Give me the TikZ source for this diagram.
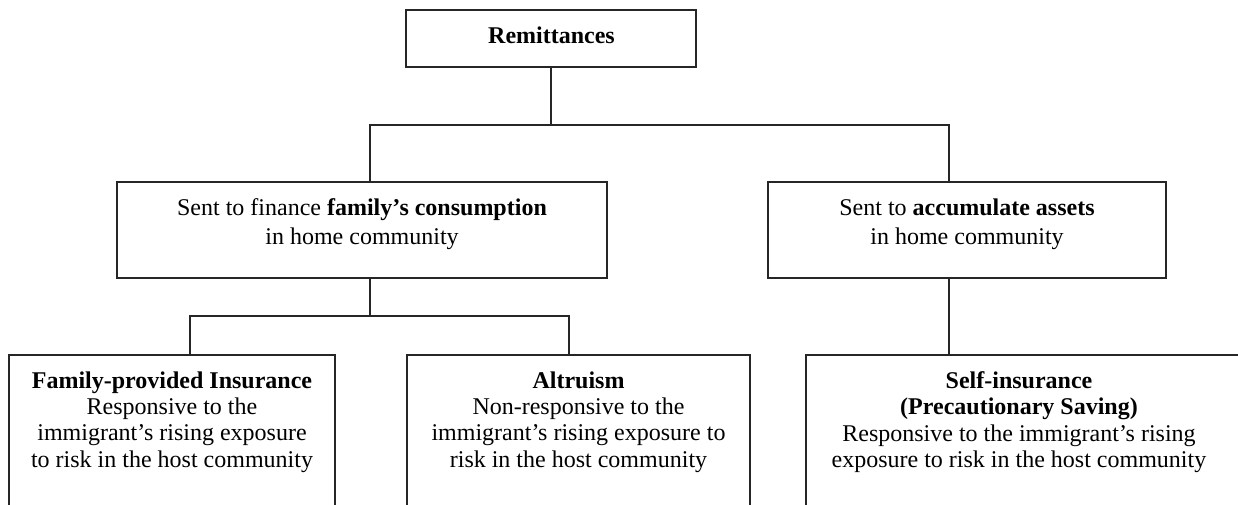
\documentclass[tikz,border=0pt]{standalone}
\usepackage{fontspec}
\setmainfont{Liberation Serif}
\begin{document}
\begin{tikzpicture}[x=1pt,y=-1pt,
  box/.style={draw=black!85, line width=1.2pt, inner sep=0pt, outer sep=0pt},
  conn/.style={draw=black!85, line width=1.2pt},
  txt/.style={align=center, inner sep=0pt, outer sep=0pt, text=black},
  midtxt/.style={txt, font=\fontsize{24}{29}\selectfont},
  bottxt/.style={txt, font=\fontsize{24}{26.3}\selectfont}]
\useasboundingbox (0,0) rectangle (1238,504);
\clip (0,0) rectangle (1238,504);
% boxes
\node[box, minimum width=290pt, minimum height=57pt] (rem) at (551,38.5) {};
\node[box, minimum width=490pt, minimum height=96pt] (ml) at (362,230) {};
\node[box, minimum width=398pt, minimum height=96pt] (mr) at (967,230) {};
\node[box, minimum width=326pt, minimum height=220pt, anchor=north] (fpi) at (172,355) {};
\node[box, minimum width=343pt, minimum height=220pt, anchor=north] (alt) at (578.5,355) {};
\node[box, minimum width=440pt, minimum height=220pt, anchor=north] (si) at (1026,355) {};
% texts
\node[txt, font=\fontsize{24}{26}\selectfont, anchor=base] (remt) at (551.5,43.3) {\textbf{Remittances}};
\node[midtxt, anchor=north] (mlt) at (362,198.5) {Sent to finance \textbf{family's consumption}\\in home community};
\node[midtxt, anchor=north] (mrt) at (967,198.5) {Sent to \textbf{accumulate assets}\\in home community};
\node[bottxt, anchor=north] (fpit) at (172,371.5) {\textbf{Family-provided Insurance}\\Responsive to the\\immigrant's rising exposure\\to risk in the host community};
\node[bottxt, anchor=north] (altt) at (578.5,371.5) {\textbf{Altruism}\\Non-responsive to the\\immigrant's rising exposure to\\risk in the host community};
\node[bottxt, anchor=north] (sit) at (1019,371.5) {\textbf{Self-insurance}\\\textbf{(Precautionary Saving)}\\Responsive to the immigrant's rising\\exposure to risk in the host community};
% junctions
\coordinate (jl) at (370,125);
\coordinate (jr) at (949,125);
\coordinate (kl) at (190,316);
\coordinate (kr) at (569,316);
% connectors
\draw[conn] (rem.south) -- (rem.south |- jl);
\draw[conn] (ml.north -| jl) -- (jl) -- (jr) -- (mr.north -| jr);
\draw[conn] (ml.south -| jl) -- (jl |- kl);
\draw[conn] (fpi.north -| kl) -- (kl) -- (kr) -- (alt.north -| kr);
\draw[conn] (mr.south -| jr) -- (si.north -| jr);
\end{tikzpicture}
\end{document}
